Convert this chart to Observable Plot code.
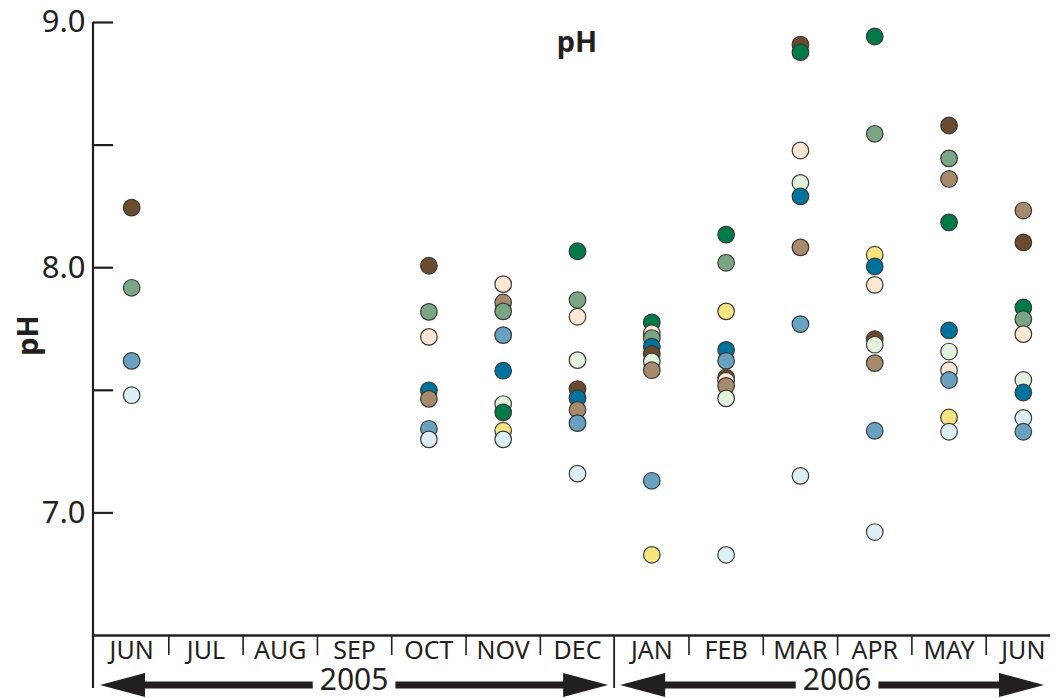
<!DOCTYPE html>
<html><head><meta charset="utf-8">
<script src="https://cdn.jsdelivr.net/npm/d3@7"></script>
<script src="https://cdn.jsdelivr.net/npm/@observablehq/plot@0.6"></script>
<style>
body{margin:0;background:#fff;}
svg{font-family:"Noto Sans",sans-serif;}
</style>
</head><body><div id="chart"></div>
<script>
// Months (June 2005 – June 2006)
const months = ["JUN","JUL","AUG","SEP","OCT","NOV","DEC","JAN","FEB","MAR","APR","MAY","JUN"];
const years = [{label:"2005", start:0, end:7},{label:"2006", start:7, end:13}];
const yDomain = [6.5, 9];
const yTickLabels = [7, 8, 9];
const yTicks = [7, 7.5, 8, 8.5, 9];

// Series: pH by month (null = no sample)
//                    JUN  JUL  AUG  SEP  OCT   NOV   DEC   JAN   FEB   MAR   APR   MAY   JUN
const siteBrown     = [8.245,null,null,null,8.008,null, 7.505,7.648,7.552,8.91, 7.709,8.58, 8.103];
const siteGreen     = [null,null,null,null, null, 7.41, 8.067,7.777,8.135,8.879,8.943,8.185,7.838];
const siteSage      = [7.918,null,null,null,7.82, 7.822,7.868,7.713,8.02, null, 8.546,8.446,7.79];
const siteTan       = [null,null,null,null, 7.465,7.858,7.42, 7.582,7.518,8.083,7.611,8.362,8.233];
const sitePeach     = [null,null,null,null, 7.718,7.933,7.80, 7.733,7.539,8.478,7.93, 7.582,7.729];
const sitePaleGreen = [null,null,null,null, null, 7.444,7.623,7.618,7.467,8.346,7.686,7.658,7.542];
const siteTeal      = [null,null,null,null, 7.50, 7.58, 7.468,7.678,7.665,8.291,8.005,7.744,7.491];
const siteSteel     = [7.62,null,null,null, 7.343,7.725,7.366,7.131,7.62, 7.77, 7.335,7.542,7.331];
const sitePaleBlue  = [7.48,null,null,null, 7.30, 7.30, 7.16, null, 6.829,7.151,6.922,7.331,7.387];
const siteYellow    = [null,null,null,null, null, 7.335,null, 6.829,7.822,null, 8.053,7.389,null];

const seriesNames  = ["brown","green","sage","tan","peach","palegreen","teal","steel","paleblue","yellow"];
const seriesColors = ["#6a4b2d","#007a48","#7aa683","#a68a6c","#fde6d2","#e4f1dc","#00739c","#69a2c1","#dbeff5","#f6e57f"];
const seriesValues = [siteBrown,siteGreen,siteSage,siteTan,sitePeach,sitePaleGreen,siteTeal,siteSteel,sitePaleBlue,siteYellow];

const rows = [];
seriesValues.forEach((vals, s) => vals.forEach((v, m) => { if (v != null) rows.push({series: seriesNames[s], m, v}); }));
rows.sort((a, b) => b.v - a.v);

const ink = "#231f20";
const W = 1058, H = 698;
const plot = Plot.plot({
  width: W, height: H,
  marginLeft: 93, marginRight: 8, marginTop: 22, marginBottom: 63,
  style: {fontFamily: '"Noto Sans", sans-serif', color: ink, background: "#fff"},
  x: {domain: [0, months.length], range: [94, 1060]},
  y: {domain: yDomain},
  color: {domain: seriesNames, range: seriesColors},
  marks: [
    Plot.axisY({ticks: yTickLabels, tickSize: 0, tickPadding: 8, tickFormat: d => d.toFixed(1), fontSize: 31, label: null}),
    Plot.axisY({ticks: yTicks, tickSize: -20, tickFormat: () => "", strokeWidth: 2.2, label: null}),
    Plot.ruleY(yDomain.slice(0, 1), {stroke: ink, strokeWidth: 2.5}),
    Plot.axisX({ticks: months.map((_, i) => i + 0.5), tickSize: 0, tickPadding: 6, tickFormat: d => months[Math.floor(d)], fontSize: 25, label: null}),
    Plot.axisX({ticks: d3.range(1, months.length).filter(i => !years.some(y => y.start === i)), tickSize: 20, tickFormat: () => "", strokeWidth: 1.6, label: null}),
    Plot.dot(rows, {x: d => d.m + 0.5, y: "v", fill: "series", r: 8.3, stroke: "#383838", strokeWidth: 1.2})
  ]
});
document.getElementById("chart").appendChild(plot);

const svg = d3.select(plot);
const xs = plot.scale("x"), ys = plot.scale("y");
const X = v => xs.apply(v), Y = v => ys.apply(v);
const bottom = Y(yDomain[0]);
const right = W - 8;

// y-axis line extending down past baseline
svg.append("line").attr("x1", 93).attr("x2", 93).attr("y1", Y(yDomain[1])).attr("y2", bottom + 53)
  .attr("stroke", ink).attr("stroke-width", 2.2);
// year dividers
years.slice(1).forEach(yr => {
  svg.append("line").attr("x1", X(yr.start)).attr("x2", X(yr.start)).attr("y1", bottom).attr("y2", bottom + 53)
    .attr("stroke", ink).attr("stroke-width", 1.8);
});

// Title
svg.append("text").attr("x", (X(0) + X(months.length)) / 2).attr("y", 52).attr("text-anchor", "middle")
  .attr("font-weight", "bold").attr("font-size", 29).attr("fill", ink).text("pH");
// Y label
svg.append("text").attr("transform", `translate(38,${(Y(yDomain[0]) + Y(yDomain[1])) / 2 + 7}) rotate(-90)`)
  .attr("text-anchor", "middle").attr("font-weight", "bold").attr("font-size", 29).attr("fill", ink).text("pH");

// Year arrows
const ay = bottom + 50, headL = 45, headH = 12, shaft = 3.5;
years.forEach(yr => {
  const x0 = X(yr.start) + 6, x1 = Math.min(X(yr.end), right) - 6;
  const tc = (X(yr.start) + X(yr.end)) / 2;
  const t = svg.append("text").attr("x", tc).attr("y", H - 8).attr("text-anchor", "middle")
    .attr("font-size", 30).attr("fill", ink).text(yr.label);
  const tw = t.node().getComputedTextLength();
  const gl = tc - tw / 2 - 7, gr = tc + tw / 2 + 7;
  svg.append("path").attr("fill", ink)
    .attr("d", `M${x0},${ay} L${x0 + headL},${ay - headH} L${x0 + headL},${ay + headH} Z`);
  svg.append("path").attr("fill", ink)
    .attr("d", `M${x1},${ay} L${x1 - headL},${ay - headH} L${x1 - headL},${ay + headH} Z`);
  svg.append("rect").attr("fill", ink).attr("x", x0 + headL - 1).attr("y", ay - shaft).attr("width", gl - x0 - headL + 1).attr("height", shaft * 2);
  svg.append("rect").attr("fill", ink).attr("x", gr).attr("y", ay - shaft).attr("width", x1 - headL + 1 - gr).attr("height", shaft * 2);
});
</script>
</body></html>
